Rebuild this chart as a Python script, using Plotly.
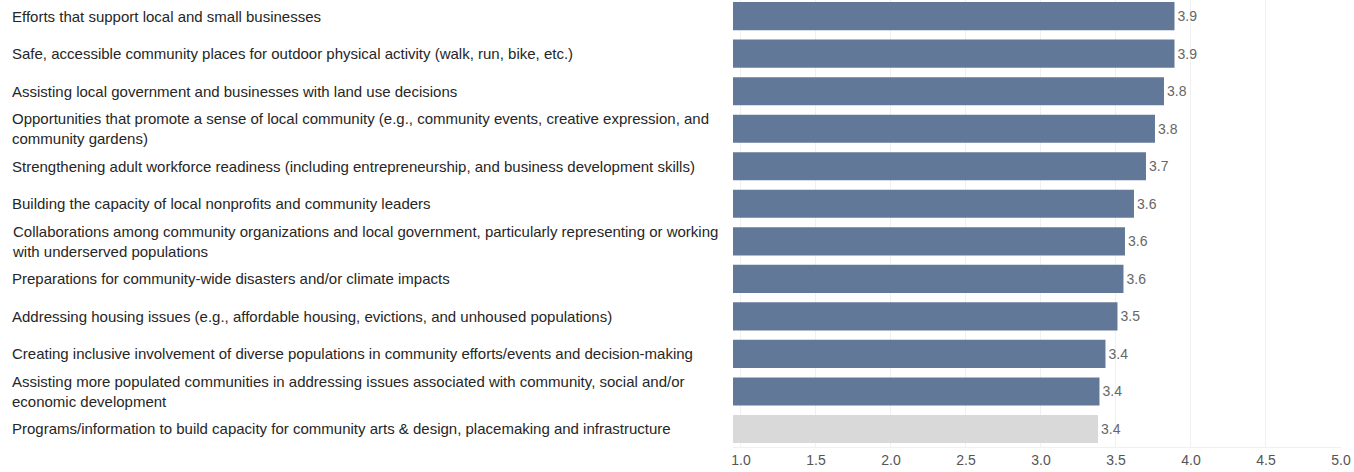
import plotly.graph_objects as go

categories = [
    "Efforts that support local and small businesses",
    "Safe, accessible community places for outdoor physical activity (walk, run, bike, etc.)",
    "Assisting local government and businesses with land use decisions",
    "Opportunities that promote a sense of local community (e.g., community events, creative expression, and<br>community gardens)",
    "Strengthening adult workforce readiness (including entrepreneurship, and business development skills)",
    "Building the capacity of local nonprofits and community leaders",
    "Collaborations among community organizations and local government, particularly representing or working<br>with underserved populations",
    "Preparations for community-wide disasters and/or climate impacts",
    "Addressing housing issues (e.g., affordable housing, evictions, and unhoused populations)",
    "Creating inclusive involvement of diverse populations in community efforts/events and decision-making",
    "Assisting more populated communities in addressing issues associated with community, social and/or<br>economic development",
    "Programs/information to build capacity for community arts & design, placemaking and infrastructure",
]
values = [3.89, 3.89, 3.82, 3.76, 3.70, 3.62, 3.56, 3.55, 3.51, 3.43, 3.39, 3.38]
value_labels = ["3.9", "3.9", "3.8", "3.8", "3.7", "3.6", "3.6", "3.6", "3.5", "3.4", "3.4", "3.4"]
highlight = [True] * 11 + [False]
tick_vals = [1.0, 1.5, 2.0, 2.5, 3.0, 3.5, 4.0, 4.5, 5.0]
tick_text = ["1.0", "1.5", "2.0", "2.5", "3.0", "3.5", "4.0", "4.5", "5.0"]

W, H = 1354, 472
ml, mr, mt, mb = 733, 13, 0, 25
plot_w = W - ml - mr
FONT = "Liberation Sans, Arial, sans-serif"

ids = list(range(len(categories)))
colors = ["#627898" if h else "#D9D9D9" for h in highlight]

fig = go.Figure()
fig.add_trace(go.Bar(
    x=values, y=ids, orientation="h",
    marker=dict(color=colors, line=dict(width=0)),
    text=value_labels, textposition="outside",
    textfont=dict(family=FONT, size=14, color="#666666"),
    cliponaxis=False,
    base=0,
    hoverinfo="skip",
))

for i, c in enumerate(categories):
    fig.add_annotation(
        x=(10 - ml) / plot_w, xref="paper", y=i, yref="y",
        text=c, showarrow=False, xanchor="left", yanchor="middle", align="left",
        font=dict(family=FONT, size=15, color="#262626"),
    )

fig.update_layout(
    width=W, height=H,
    margin=dict(l=ml, r=mr, t=mt, b=mb),
    paper_bgcolor="white", plot_bgcolor="white",
    bargap=0.25, showlegend=False,
    xaxis=dict(
        range=[0.947, 5.0], tickvals=tick_vals, ticktext=tick_text,
        showgrid=True, gridcolor="#F0F0F0", gridwidth=1,
        zeroline=False, showline=True, linecolor="#F0F0F0",
        tickfont=dict(family=FONT, size=14, color="#555555"),
        ticks="", fixedrange=True,
    ),
    yaxis=dict(
        range=[11.48, -0.43], showticklabels=False, showgrid=False,
        zeroline=False, fixedrange=True,
    ),
)

fig.write_html(
    "out.html",
    config={"displayModeBar": False, "staticPlot": True},
    post_script="document.body.style.margin='0px';document.body.style.overflow='hidden';",
)
